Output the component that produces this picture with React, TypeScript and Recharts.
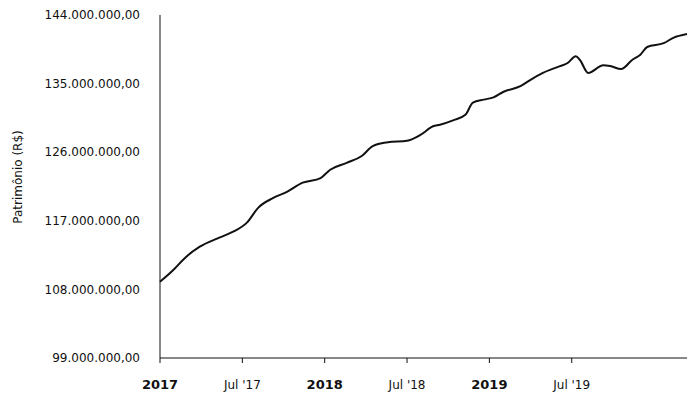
import { LineChart, Line, XAxis, YAxis } from 'recharts'

// months since Jan 2017
const months = [
  0, 0.95, 1.8, 2.9, 4.2, 5.25, 6.35, 7.15, 8.25, 9.25, 10.4, 11.7, 12.4, 13.6, 14.7, 15.5, 16.6, 18.0, 19.0,
  19.9, 20.4, 21.4, 22.25, 22.8, 23.6, 24.3, 25.0, 26.3, 27.0, 27.9, 29.0, 29.7, 30.3, 30.6, 31.2, 32.3, 32.8,
  33.6, 34.4, 35.0, 35.5, 36.7, 37.4, 38.4,
]
// patrimonio, R$ millions
const patrimonio = [
  109.0, 110.5, 112.1, 113.6, 114.7, 115.5, 116.8, 118.7, 120.0, 120.8, 122.0, 122.6, 123.7, 124.6, 125.5, 126.8,
  127.3, 127.5, 128.3, 129.4, 129.6, 130.2, 130.9, 132.5, 132.9, 133.2, 133.9, 134.7, 135.5, 136.4, 137.2, 137.7,
  138.6, 138.1, 136.4, 137.4, 137.3, 136.9, 138.1, 138.8, 139.8, 140.3, 141.0, 141.5,
]
const xTicks = [0, 6, 12, 18, 24, 30]
const xTickLabels = ['2017', "Jul '17", '2018', "Jul '18", '2019', "Jul '19"]
const yTicks = [99, 108, 117, 126, 135, 144]

const data = months.map((m, i) => ({ month: m, value: patrimonio[i] }))

const fmtBRL = (v: number) => {
  const int = Math.round(v * 1e6).toString().replace(/\B(?=(\d{3})+(?!\d))/g, '.')
  return `${int},00`
}

const XTick = (props: any) => {
  const { x, y, payload } = props
  const idx = xTicks.indexOf(payload.value)
  const label = xTickLabels[idx] ?? ''
  const isYear = !label.startsWith('Jul')
  return (
    <text
      x={x}
      y={y + 24}
      textAnchor="middle"
      fontSize={isYear ? 13 : 12}
      fontWeight={isYear ? 700 : 400}
      fill="#111"
      fontFamily="DejaVu Sans, sans-serif"
    >
      {label}
    </text>
  )
}

const YLabel = () => (
  <text
    x={18}
    y={177}
    transform="rotate(-90 18 177)"
    textAnchor="middle"
    dominantBaseline="central"
    fontSize={12}
    fill="#111"
    fontFamily="DejaVu Sans, sans-serif"
  >
    Patrimônio (R$)
  </text>
)

export default function App() {
  return (
    <div style={{ position: 'absolute', left: 0, top: 0, background: '#fff' }}>
      <LineChart width={687} height={404} data={data} margin={{ top: 15, right: 0, bottom: 6, left: 0 }}>
        <XAxis
          dataKey="month"
          type="number"
          domain={[0, 38.4]}
          ticks={xTicks}
          tick={<XTick />}
          height={40}
          stroke="#111"
          tickSize={5}
        />
        <YAxis
          type="number"
          domain={[99, 144]}
          ticks={yTicks}
          width={160}
          stroke="#111"
          tickLine={false}
          tickSize={0}
          tickMargin={20}
          tickFormatter={fmtBRL}
          tick={{ fill: '#111', fontSize: 12, fontFamily: 'DejaVu Sans, sans-serif' }}
          label={{ content: <YLabel /> }}
        />
        <Line
          type="monotone"
          dataKey="value"
          stroke="#111"
          strokeWidth={2}
          dot={false}
          isAnimationActive={false}
        />
      </LineChart>
    </div>
  )
}
